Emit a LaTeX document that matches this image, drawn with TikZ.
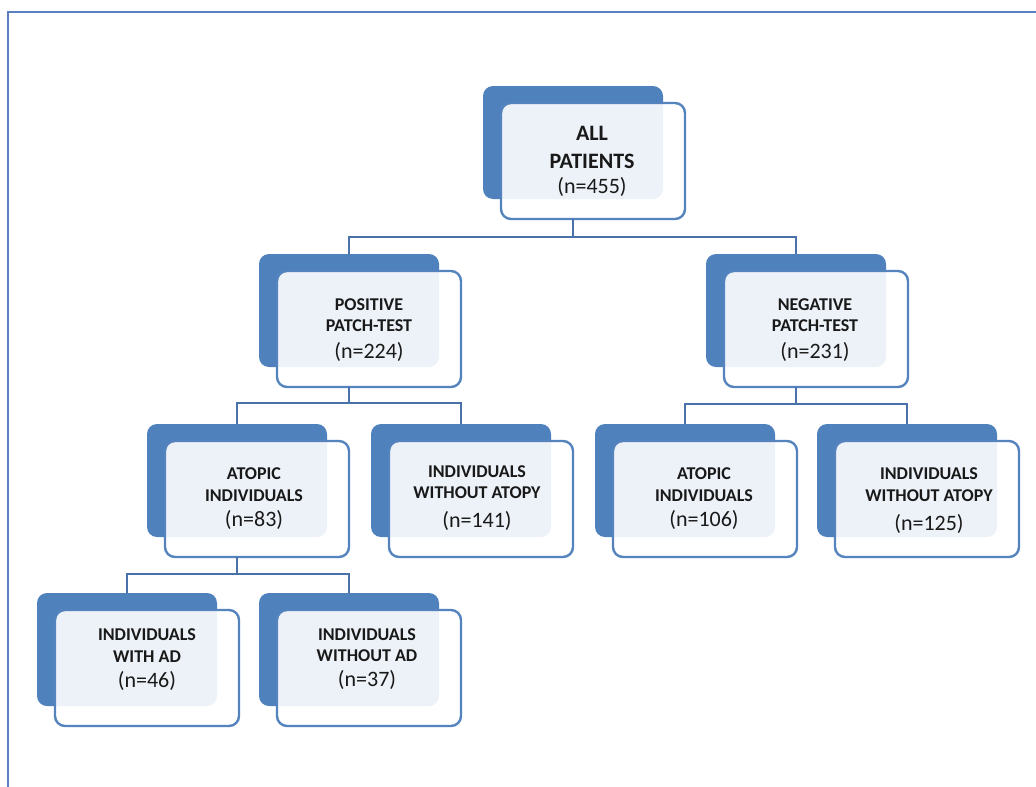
\documentclass[tikz,border=0pt]{standalone}
\usepackage{fontspec}
\setmainfont{Carlito}
\definecolor{backblue}{HTML}{4F81BD}
\definecolor{edgeblue}{HTML}{5583BE}
\definecolor{linkblue}{HTML}{4A72AA}
\definecolor{frameblue}{HTML}{5B7FBF}
\tikzset{
  backbox/.style={draw=none, fill=backblue, rounded corners=10pt, minimum width=180pt, minimum height=113pt, inner sep=0pt, outer sep=0pt, anchor=north west},
  frontbox/.style={draw=edgeblue, line width=2.4pt, fill=white, fill opacity=0.9, rounded corners=10pt, minimum width=184pt, minimum height=116pt, inner sep=0pt, outer sep=0pt, anchor=north west},
  txt/.style={align=center, text=black!90, font=\fontsize{18}{21.5}\selectfont\bfseries, inner sep=0pt},
  bigtxt/.style={align=center, text=black!90, font=\fontsize{22}{28}\selectfont\bfseries, inner sep=0pt},
  link/.style={draw=linkblue, line width=2.8pt},
}
\newcommand\nval[1]{{\fontsize{22}{22}\selectfont\mdseries #1}}
\newcommand\flowunit[7][txt]{%
  \node[backbox] (#2-b) at (#3,#4) {};
  \node[frontbox] (#2-f) at (#3+18,#4+17) {};
  \node[#1] (#2-t) at (#5,#6) {#7};
}
\begin{document}
\begin{tikzpicture}[x=1pt,y=-1pt]
\useasboundingbox (0,0) rectangle (1036,787);
\fill[white] (0,0) rectangle (1036,787);
\draw[frameblue, line width=2.6pt] (8,787) -- (8,12) -- (1036,12);

\flowunit[bigtxt]{all}{483}{86}{592}{161}{ALL\\PATIENTS\\[-3pt]\nval{(n=455)}}
\flowunit{pos}{259}{254}{369}{330}{POSITIVE\\PATCH-TEST\\[5pt]\nval{(n=224)}}
\flowunit{neg}{706}{254}{815}{330}{NEGATIVE\\PATCH-TEST\\[5pt]\nval{(n=231)}}
\flowunit{atl}{147}{424}{254}{499}{ATOPIC\\INDIVIDUALS\\[4pt]\nval{(n=83)}}
\flowunit{wol}{371}{424}{477}{498}{INDIVIDUALS\\WITHOUT ATOPY\\[7pt]\nval{(n=141)}}
\flowunit{atr}{595}{424}{704}{499}{ATOPIC\\INDIVIDUALS\\[4pt]\nval{(n=106)}}
\flowunit{wor}{817}{424}{929}{501}{INDIVIDUALS\\WITHOUT ATOPY\\[8pt]\nval{(n=125)}}
\flowunit{ad}{37}{593}{147}{660}{INDIVIDUALS\\WITH AD\\[4pt]\nval{(n=46)}}
\flowunit{noad}{259}{593}{367}{659}{INDIVIDUALS\\WITHOUT AD\\[3pt]\nval{(n=37)}}

\draw[link] (all-f.south -| all-b.center) -- ++(0,18) coordinate (j1);
\draw[link] (j1) -| (pos-b.north);
\draw[link] (j1) -| (neg-b.north);
\draw[link] (pos-f.south -| pos-b.center) -- ++(0,16) coordinate (j2);
\draw[link] (j2) -| (atl-b.north);
\draw[link] (j2) -| (wol-b.north);
\draw[link] (neg-f.south -| neg-b.center) -- ++(0,17) coordinate (j3);
\draw[link] (j3) -| (atr-b.north);
\draw[link] (j3) -| (wor-b.north);
\draw[link] (atl-f.south -| atl-b.center) -- ++(0,17) coordinate (j4);
\draw[link] (j4) -| (ad-b.north);
\draw[link] (j4) -| (noad-b.north);
\end{tikzpicture}
\end{document}
